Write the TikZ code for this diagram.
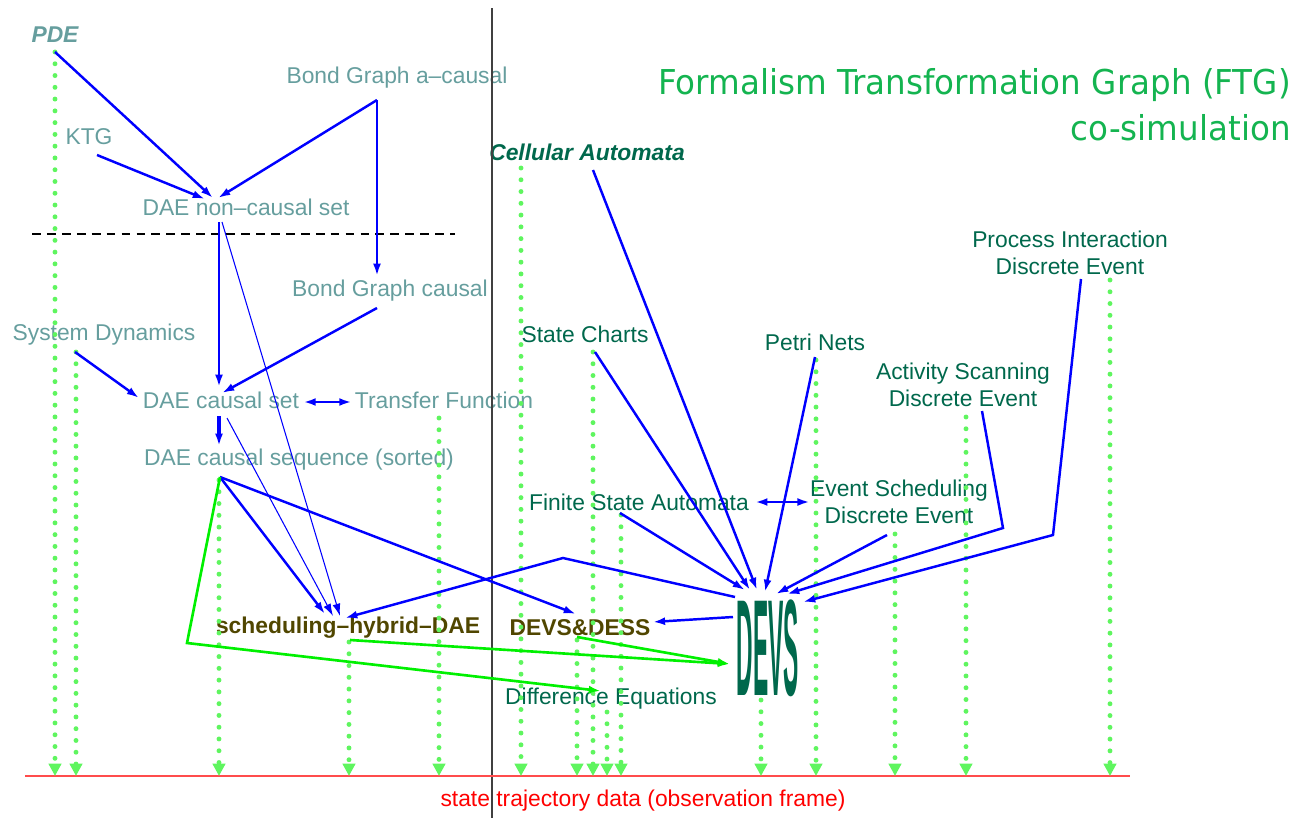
\documentclass[tikz,border=0pt]{standalone}
\usepackage{fontspec}
\setmainfont{Liberation Sans}
\newfontfamily\titlefont[FakeStretch=0.95]{DejaVu Sans}
\usetikzlibrary{arrows.meta,calc}

\definecolor{srcgray}{RGB}{102,158,158}
\definecolor{devsgreen}{RGB}{0,104,76}
\definecolor{hybbrown}{RGB}{80,70,0}
\definecolor{titlegreen}{RGB}{20,180,80}
\definecolor{obsgreen}{RGB}{95,245,95}
\definecolor{linkgreen}{RGB}{0,240,0}

\tikzset{
  lbl/.style={inner sep=0pt, font=\fontsize{13}{15.4}\selectfont, align=center},
  src/.style={lbl, text=srcgray},
  dst/.style={lbl, text=devsgreen},
  hyb/.style={lbl, text=hybbrown, font=\fontsize{13}{15.4}\selectfont\bfseries},
  flow/.style={->, blue, line width=1.4pt},
  thinflow/.style={->, blue, line width=0.6pt},
  cosim/.style={->, linkgreen, line width=1.5pt},
  obs/.style={obsgreen, line width=2.8pt, line cap=round, dash pattern=on 0pt off 6.7pt,
    -{Triangle[length=7pt,width=7pt]}}
}

\begin{document}
\begin{tikzpicture}[x=0.02cm, y=-0.02cm, >={Latex[length=7pt,width=4.5pt]}]
\useasboundingbox (0,0) rectangle (1309,818);

% title
\node[inner sep=0pt, align=right, anchor=north east, text=titlegreen,
  font=\titlefont\fontsize{19.5}{26}\selectfont] (ftg) at (1291,68)
  {Formalism Transformation Graph (FTG)\\co-simulation};

% continuous side
\node[src, font=\fontsize{13}{15.4}\selectfont\bfseries\itshape] (pde) at (55,35) {PDE};
\node[src] (bga) at (397,78) {Bond Graph a\textendash causal};
\node[src] (ktg) at (89,137) {KTG};
\node[src] (dnc) at (246,207) {DAE non\textendash causal set};
\node[src] (bgc) at (390,291) {Bond Graph causal};
\node[src] (sd) at (104,335) {System Dynamics};
\node[src] (dcs) at (221,400) {DAE causal set};
\node[src] (tf) at (444,400) {Transfer Function};
\node[src] (dseq) at (299,460) {DAE causal sequence (sorted)};
\node[hyb] (shd) at (348,628) {scheduling\textendash hybrid\textendash DAE};
\node[hyb] (dd) at (580,628) {DEVS\&DESS};

% discrete side
\node[dst, font=\fontsize{13}{15.4}\selectfont\bfseries\itshape] (ca) at (587,152) {Cellular Automata};
\node[dst] (sc) at (585,334) {State Charts};
\node[dst] (pn) at (815,342) {Petri Nets};
\node[dst] (pid) at (1070,253) {Process Interaction\\Discrete Event};
\node[dst] (as) at (963,385) {Activity Scanning\\Discrete Event};
\node[dst] (fsa) at (639,502) {Finite State Automata};
\node[dst] (es) at (899,502) {Event Scheduling\\Discrete Event};
\node[dst] (dfe) at (611,699) {Difference Equations};
\node[inner sep=0pt, text=devsgreen, font=\fontsize{13}{15}\selectfont\bfseries] (devs) at (768,648)
  {\scalebox{1}[6]{DEVS}};

% observation frame
\coordinate (axisN) at (492,8);
\coordinate (axisS) at (492,818);
\draw[black!75, line width=0.8pt] (axisN) -- (axisS);
\draw[dashed, line width=0.6pt, dash pattern=on 5pt off 3.5pt] (32,234) -- (455,234);
\coordinate (frameW) at (25,776);
\coordinate (frameE) at (1130,776);
\draw[red!70, line width=1pt] (frameW) -- (frameE);
\node[lbl, text=red] (frame) at (643,801) {state trajectory data (observation frame)};

\draw[obs] ($(pde)+(0,17)$) -- ($(pde |- frameW)+(0,0)$);
\draw[obs] ($(sd)+(-28,17)$) -- ($(sd |- frameW)+(-28,0)$);
\draw[obs] ($(dseq)+(-80,20)$) -- ($(dseq |- frameW)+(-80,0)$);
\draw[obs] ($(shd)+(1,14)$) -- ($(shd |- frameW)+(1,0)$);
\draw[obs] ($(tf)+(-5,18)$) -- ($(tf |- frameW)+(-5,0)$);
\draw[obs] ($(ca)+(-66,16)$) -- ($(ca |- frameW)+(-66,0)$);
\draw[obs] ($(dd)+(-3,12)$) -- ($(dd |- frameW)+(-3,0)$);
\draw[obs] ($(sc)+(8,18)$) -- ($(sc |- frameW)+(8,0)$);
\draw[obs] ($(dfe)+(-4,13)$) -- ($(dfe |- frameW)+(-4,0)$);
\draw[obs] ($(fsa)+(-18,13)$) -- ($(fsa |- frameW)+(-18,0)$);
\draw[obs] ($(devs)+(-7,52)$) -- ($(devs |- frameW)+(-7,0)$);
\draw[obs] ($(pn)+(1,18)$) -- ($(pn |- frameW)+(1,0)$);
\draw[obs] ($(es)+(-4,32)$) -- ($(es |- frameW)+(-4,0)$);
\draw[obs] ($(as)+(3,32)$) -- ($(as |- frameW)+(3,0)$);
\draw[obs] ($(pid)+(40,27)$) -- ($(pid |- frameW)+(40,0)$);

% transformations, continuous
\draw[flow] ($(pde)+(0,17)$) -- ($(dnc)+(-33,-9)$);
\draw[flow] ($(ktg)+(8,18)$) -- ($(dnc)+(-41,-8)$);
\draw[flow] ($(bga)+(-20,22)$) -- ($(dnc)+(-28,-9)$);
\draw[flow] ($(bga)+(-20,22)$) -- ($(bgc)+(-13,-15)$);
\draw[flow] ($(dnc)+(-27,15)$) -- ($(dcs)+(-2,-13)$);
\draw[thinflow] ($(dnc)+(-24,15)$) -- ($(shd)+(-8,-12)$);
\draw[flow] ($(bgc)+(-13,17)$) -- ($(dcs)+(1,-7)$);
\draw[flow] ($(sd)+(-29,17)$) -- ($(dcs)+(-82,-2)$);
\draw[flow, <->] ($(dcs.east)+(4,2)$) -- ($(tf.west)+(-3,2)$);
\draw[flow, line width=2pt] ($(dcs)+(-2,16)$) -- ($(dseq)+(-80,-14)$);
\draw[thinflow] ($(dcs)+(6,18)$) -- ($(shd)+(-15,-12)$);
\draw[flow] ($(dseq)+(-79,17)$) -- ($(shd)+(-23,-14)$);
\draw[flow] ($(dseq)+(-79,17)$) -- ($(dd)+(-4,-14)$);

% transformations, discrete
\draw[flow] ($(devs)+(-33,-51)$) -- (563,558) -- ($(shd)+(-3,-10)$);
\draw[flow] ($(devs)+(-35,-31)$) -- ($(dd.east)+(2,-6)$);
\draw[flow] ($(ca)+(6,18)$) -- ($(devs)+(-11,-58)$);
\draw[flow] ($(sc)+(10,18)$) -- ($(devs)+(-18,-58)$);
\draw[flow] ($(pn)+(0,15)$) -- ($(devs)+(-3,-56)$);
\draw[flow] ($(fsa)+(-19,11)$) -- ($(devs)+(-23,-58)$);
\draw[flow, <->] ($(fsa.east)+(6,0)$) -- (es.west);
\draw[flow] ($(es)+(-12,33)$) -- ($(devs)+(8,-54)$);
\draw[flow] ($(as)+(19,26)$) -- (1003,528) -- ($(devs)+(19,-54)$);
\draw[flow] ($(pid)+(11,26)$) -- (1053,535) -- ($(devs)+(35,-46)$);

% co-simulation
\draw[cosim] ($(dseq)+(-79,17)$) -- (187,643) -- ($(dfe)+(-10,-8)$);
\draw[cosim] ($(shd)+(2,12)$) -- ($(devs)+(-38,16)$);
\draw[cosim] ($(dd)+(-3,9)$) -- ($(devs)+(-38,16)$);
\end{tikzpicture}
\end{document}
